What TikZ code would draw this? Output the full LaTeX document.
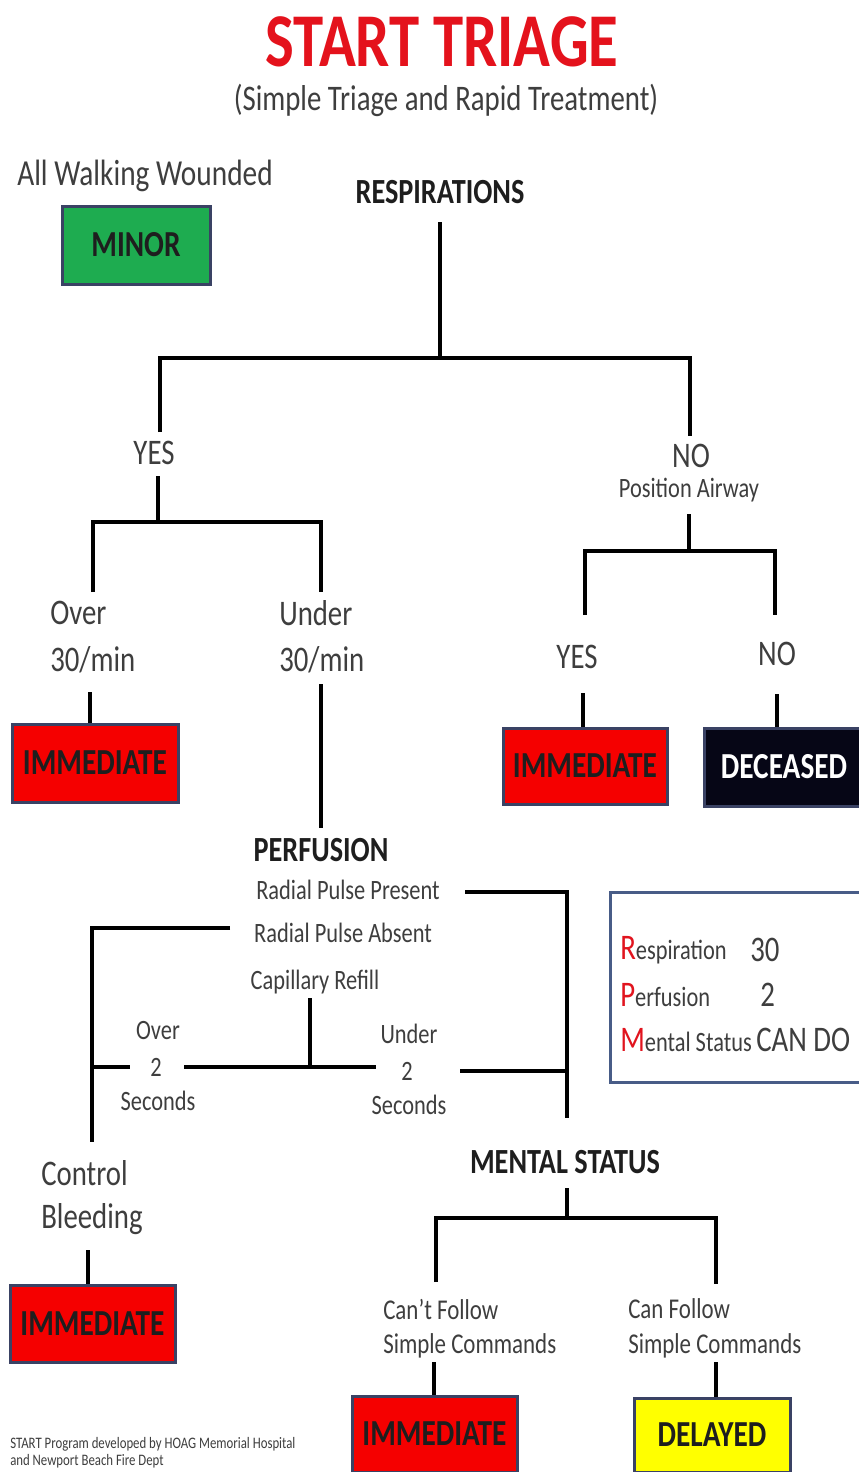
\documentclass[tikz,border=0pt]{standalone}
\usepackage{fontspec}
\setmainfont{Carlito}[FakeStretch=0.8]
\definecolor{titlered}{RGB}{228,18,28}
\definecolor{txtgray}{RGB}{62,62,62}
\definecolor{hdcol}{RGB}{30,30,30}
\definecolor{boxedge}{RGB}{58,66,100}
\definecolor{boxred}{RGB}{245,0,0}
\definecolor{boxgreen}{RGB}{30,172,80}
\definecolor{boxyellow}{RGB}{255,255,0}
\definecolor{boxblack}{RGB}{6,6,22}
\definecolor{rpmedge}{RGB}{72,92,135}
\definecolor{rpmred}{RGB}{225,20,30}
\begin{document}
\begin{tikzpicture}[x=0.75pt,y=-0.75pt,
  lbl/.style={font=\fontsize{27}{30}\selectfont, text=txtgray, inner sep=0pt},
  sml/.style={font=\fontsize{21}{24}\selectfont, text=txtgray, inner sep=0pt},
  hd/.style={font=\bfseries\fontsize{26.5}{30}\selectfont, text=hdcol, inner sep=0pt},
  tbox/.style={draw=boxedge, line width=2.25pt, inner sep=0pt,
    font=\bfseries\fontsize{27.5}{30}\selectfont, text=hdcol},
  ln/.style={line width=3pt, black, line join=miter}
]
\useasboundingbox (0,0) rectangle (859,1472);
\fill[white] (0,0) rectangle (859,1472);

% Title
\node[font=\bfseries\fontsize{57}{60}\selectfont, text=titlered, inner sep=0pt] (title) at (442,42) {START TRIAGE};
\node[font=\fontsize{27}{30}\selectfont, text=txtgray, inner sep=0pt] (subtitle) at (446,100) {(Simple Triage and Rapid Treatment)};

% Walking wounded
\node[lbl, font=\fontsize{27.5}{30}\selectfont] (walk) at (145,176) {All Walking Wounded};
\node[tbox, fill=boxgreen, minimum width=111pt, minimum height=58.5pt] (minor) at (136,245) {MINOR};

% Respirations
\node[hd] (resp) at (440,192) {RESPIRATIONS};
\coordinate (rs) at (440,222);
\coordinate (r1) at (440,358);
\coordinate (y1t) at (160,432);
\coordinate (n1t) at (690,436);
\draw[ln] (rs) -- (r1);
\draw[ln] (y1t) |- (r1) -| (n1t);

\node[lbl] (yes1) at (154,453) {YES};
\node[lbl] (no1) at (691,456) {NO};
\node[sml] (posair) at (689,490) {Position Airway};

% YES branch
\coordinate (y1b) at (158,476);
\coordinate (y2) at (158,522);
\coordinate (o30t) at (93,592);
\coordinate (u30t) at (321,592);
\draw[ln] (y1b) -- (y2);
\draw[ln] (o30t) |- (y2) -| (u30t);

\node[lbl, anchor=west] (over30a) at (50,613) {Over};
\node[lbl, anchor=west] (over30b) at (50,660) {30/min};
\node[lbl, anchor=west] (under30a) at (279,613) {Under};
\node[lbl, anchor=west] (under30b) at (279,660) {30/min};

\node[tbox, fill=boxred, minimum width=124.5pt, minimum height=58.5pt] (imm1) at (95,763) {IMMEDIATE};
\coordinate (o30b) at (90,692);
\draw[ln] (o30b) -- (o30b |- imm1.north);

\coordinate (u30b) at (321,684);
\coordinate (pt) at (321,828);
\draw[ln] (u30b) -- (pt);

% NO branch
\coordinate (n1b) at (689,514);
\coordinate (n2) at (689,551);
\coordinate (y2t) at (585,615);
\coordinate (n2t) at (775,615);
\draw[ln] (n1b) -- (n2);
\draw[ln] (y2t) |- (n2) -| (n2t);

\node[lbl] (yes2) at (577,657) {YES};
\node[lbl] (no2) at (777,654) {NO};
\node[tbox, fill=boxred, minimum width=123pt, minimum height=57pt] (imm2) at (585,766) {IMMEDIATE};
\node[tbox, fill=boxblack, text=white, minimum width=120pt, minimum height=58.5pt] (dec) at (784,767) {DECEASED};
\coordinate (y2b) at (583,693);
\coordinate (n2b) at (777,694);
\draw[ln] (y2b) -- (y2b |- imm2.north);
\draw[ln] (n2b) -- (n2b |- dec.north);

% Perfusion
\node[hd] (perf) at (321,850) {PERFUSION};
\node[sml] (rpp) at (348,890) {Radial Pulse Present};
\node[sml] (rpa) at (343,933) {Radial Pulse Absent};
\node[sml] (capr) at (315,982) {Capillary Refill};

\coordinate (rppe) at (465,892);
\coordinate (msj) at (567,1118);
\draw[ln] (rppe) -| (msj);

\coordinate (rpae) at (230,928);
\coordinate (cbt) at (92,1142);
\draw[ln] (rpae) -| (cbt);

\coordinate (o2l) at (92,1067);
\coordinate (o2r) at (130,1067);
\draw[ln] (o2l) -- (o2r);

\coordinate (capb) at (310,998);
\coordinate (capj) at (310,1067);
\coordinate (barl) at (184,1067);
\coordinate (barr) at (376,1067);
\draw[ln] (capb) -- (capj);
\draw[ln] (barl) -- (barr);

\coordinate (u2l) at (460,1071);
\coordinate (u2r) at (567,1071);
\draw[ln] (u2l) -- (u2r);

\node[sml] (over2a) at (158,1030) {Over};
\node[sml] (over2b) at (156,1067) {2};
\node[sml] (over2c) at (158,1101) {Seconds};
\node[sml] (under2a) at (409,1034) {Under};
\node[sml] (under2b) at (407,1071) {2};
\node[sml] (under2c) at (409,1105) {Seconds};

% Control bleeding
\node[lbl, anchor=west] (ctrl) at (41,1173) {Control};
\node[lbl, anchor=west] (bleed) at (41,1219) {Bleeding};
\node[tbox, fill=boxred, minimum width=123.75pt, minimum height=57.75pt] (imm3) at (92.5,1323.5) {IMMEDIATE};
\coordinate (cbb) at (88,1250);
\draw[ln] (cbb) -- (cbb |- imm3.north);

% Mental status
\node[hd] (ms) at (565,1162) {MENTAL STATUS};
\coordinate (msb) at (567,1188);
\coordinate (ms2) at (567,1218);
\coordinate (cft) at (436,1282);
\coordinate (cnt) at (716,1284);
\draw[ln] (msb) -- (ms2);
\draw[ln] (cft) |- (ms2) -| (cnt);

\node[sml, font=\fontsize{21.5}{25}\selectfont, anchor=west] (cant1) at (383,1309) {Can’t Follow};
\node[sml, font=\fontsize{21.5}{25}\selectfont, anchor=west] (cant2) at (383,1346) {Simple Commands};
\node[sml, font=\fontsize{21.5}{25}\selectfont, anchor=west] (can1) at (628,1309) {Can Follow};
\node[sml, font=\fontsize{21.5}{25}\selectfont, anchor=west] (can2) at (628,1346) {Simple Commands};

\node[tbox, fill=boxred, minimum width=123.75pt, minimum height=57pt] (imm4) at (434.5,1434) {IMMEDIATE};
\node[tbox, fill=boxyellow, minimum width=117pt, minimum height=55.5pt] (del) at (712,1435) {DELAYED};
\coordinate (cfb) at (434,1362);
\coordinate (cnb) at (716,1362);
\draw[ln] (cfb) -- (cfb |- imm4.north);
\draw[ln] (cnb) -- (cnb |- del.north);

% RPM box
\draw[draw=rpmedge, line width=2.25pt] (610,892) rectangle (866,1082);
\node[sml, anchor=west] (rpm1) at (620,950) {\textcolor{rpmred}{\fontsize{27}{30}\selectfont R}espiration};
\node[lbl, anchor=west] (rpm1v) at (750,950) {30};
\node[sml, anchor=west] (rpm2) at (620,995) {\textcolor{rpmred}{\fontsize{27}{30}\selectfont P}erfusion};
\node[lbl, anchor=west] (rpm2v) at (760,995) {2};
\node[sml, anchor=west] (rpm3) at (620,1040) {\textcolor{rpmred}{\fontsize{27}{30}\selectfont M}ental Status};
\node[lbl, anchor=west] (rpm3v) at (756,1040) {CAN DO};

% Footnote
\node[sml, font=\fontsize{12}{14}\selectfont, anchor=west] (foot1) at (10,1444) {START Program developed by HOAG Memorial Hospital};
\node[sml, font=\fontsize{12}{14}\selectfont, anchor=west] (foot2) at (10,1461) {and Newport Beach Fire Dept};
\end{tikzpicture}
\end{document}
